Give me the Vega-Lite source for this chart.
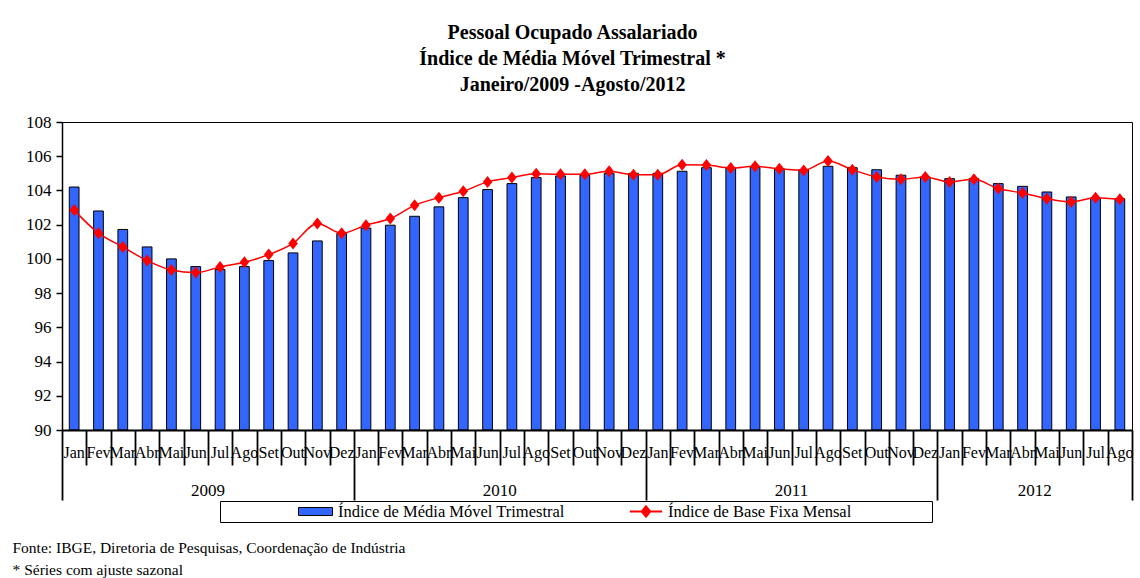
{
  "$schema": "https://vega.github.io/schema/vega-lite/v6.json",
  "width": 1070,
  "height": 308,
  "autosize": {"type": "none"},
  "padding": {"left": 62, "top": 122, "right": 8, "bottom": 148},
  "background": "white",
  "config": {
    "view": {"stroke": "black", "strokeWidth": 1},
    "font": "Liberation Serif",
    "axisY": {
      "labelFont": "Liberation Serif",
      "labelFontSize": 17,
      "labelColor": "black",
      "labelPadding": 5,
      "labelOverlap": false,
      "tickColor": "black",
      "tickSize": 6,
      "tickWidth": 1.5,
      "domainColor": "black",
      "domainWidth": 1.5,
      "grid": false
    }
  },
  "title": {
    "text": ["Pessoal Ocupado Assalariado", "Índice de Média Móvel Trimestral *", "Janeiro/2009 -Agosto/2012"],
    "font": "Liberation Serif",
    "fontSize": 20,
    "fontWeight": "bold",
    "color": "black",
    "anchor": "middle",
    "frame": "bounds",
    "lineHeight": 26,
    "offset": 18
  },
  "data": {
    "values": [
      {"m": "Jan/2009", "media": 104.2, "base": 102.85},
      {"m": "Fev/2009", "media": 102.8, "base": 101.5},
      {"m": "Mar/2009", "media": 101.72, "base": 100.7},
      {"m": "Abr/2009", "media": 100.7, "base": 99.9},
      {"m": "Mai/2009", "media": 100.0, "base": 99.35},
      {"m": "Jun/2009", "media": 99.55, "base": 99.2},
      {"m": "Jul/2009", "media": 99.38, "base": 99.53},
      {"m": "Ago/2009", "media": 99.55, "base": 99.8},
      {"m": "Set/2009", "media": 99.9, "base": 100.25},
      {"m": "Out/2009", "media": 100.35, "base": 100.9},
      {"m": "Nov/2009", "media": 101.05, "base": 102.07},
      {"m": "Dez/2009", "media": 101.48, "base": 101.5},
      {"m": "Jan/2010", "media": 101.8, "base": 101.97},
      {"m": "Fev/2010", "media": 101.97, "base": 102.36},
      {"m": "Mar/2010", "media": 102.49, "base": 103.13},
      {"m": "Abr/2010", "media": 103.04, "base": 103.58},
      {"m": "Mai/2010", "media": 103.58, "base": 103.95},
      {"m": "Jun/2010", "media": 104.05, "base": 104.5},
      {"m": "Jul/2010", "media": 104.4, "base": 104.75},
      {"m": "Ago/2010", "media": 104.75, "base": 104.98},
      {"m": "Set/2010", "media": 104.85, "base": 104.94},
      {"m": "Out/2010", "media": 104.89, "base": 104.94},
      {"m": "Nov/2010", "media": 105.0, "base": 105.12},
      {"m": "Dez/2010", "media": 105.0, "base": 104.92},
      {"m": "Jan/2011", "media": 105.0, "base": 104.92},
      {"m": "Fev/2011", "media": 105.12, "base": 105.5},
      {"m": "Mar/2011", "media": 105.33, "base": 105.48},
      {"m": "Abr/2011", "media": 105.33, "base": 105.31},
      {"m": "Mai/2011", "media": 105.37, "base": 105.41},
      {"m": "Jun/2011", "media": 105.27, "base": 105.27},
      {"m": "Jul/2011", "media": 105.21, "base": 105.17},
      {"m": "Ago/2011", "media": 105.41, "base": 105.72},
      {"m": "Set/2011", "media": 105.33, "base": 105.21},
      {"m": "Out/2011", "media": 105.21, "base": 104.79},
      {"m": "Nov/2011", "media": 104.89, "base": 104.65},
      {"m": "Dez/2011", "media": 104.79, "base": 104.79},
      {"m": "Jan/2012", "media": 104.69, "base": 104.5},
      {"m": "Fev/2012", "media": 104.69, "base": 104.65},
      {"m": "Mar/2012", "media": 104.4, "base": 104.11},
      {"m": "Abr/2012", "media": 104.24, "base": 103.85},
      {"m": "Mai/2012", "media": 103.91, "base": 103.52},
      {"m": "Jun/2012", "media": 103.62, "base": 103.33},
      {"m": "Jul/2012", "media": 103.56, "base": 103.58},
      {"m": "Ago/2012", "media": 103.52, "base": 103.48}
    ]
  },
  "layer": [
    {
      "mark": {"type": "bar", "stroke": "black", "strokeWidth": 1, "width": {"band": 0.4}},
      "encoding": {
        "x": {
          "field": "m", "type": "ordinal", "sort": null,
          "scale": {"paddingInner": 0, "paddingOuter": 0},
          "axis": {
            "orient": "bottom",
            "zindex": 1,
            "title": ["Fonte: IBGE, Diretoria de Pesquisas, Coordenação de Indústria", "* Séries com ajuste sazonal"],
            "titleFont": "Liberation Serif",
            "titleFontSize": 15.5,
            "titleFontWeight": "normal",
            "titleColor": "black",
            "titleAnchor": "start",
            "titleAlign": "left",
            "titleBaseline": "top",
            "titleX": -50,
            "titleY": 110,
            "titleLineHeight": 22,
            "labelExpr": "split(datum.label, '/')[0]",
            "labelAngle": 0,
            "labelFont": "Liberation Serif",
            "labelFontSize": 16,
            "labelColor": "black",
            "labelPadding": 14,
            "labelBaseline": "top",
            "labelOverlap": false,
            "labelBound": false,
            "labelFlush": false,
            "ticks": false,
            "tickSize": 0,
            "domainColor": "black",
            "domainWidth": 2
          }
        },
        "y": {
          "field": "media", "type": "quantitative",
          "scale": {"domain": [90, 108], "nice": false, "zero": false},
          "axis": {"values": [90, 92, 94, 96, 98, 100, 102, 104, 106, 108], "title": null, "labelOverlap": false}
        },
        "y2": {"datum": 90},
        "fill": {
          "datum": "Índice de Média Móvel Trimestral",
          "scale": {"range": ["#3366FF"]},
          "legend": {
            "orient": "none",
            "legendX": 234,
            "legendY": 379,
            "direction": "horizontal",
            "title": null,
            "padding": 2,
            "labelFont": "Liberation Serif",
            "labelFontSize": 16.5,
            "labelColor": "black",
            "labelOffset": 5,
            "labelLimit": 400,
            "symbolType": "M-1,-0.235L1,-0.235L1,0.235L-1,0.235Z",
            "symbolSize": 1156,
            "symbolStrokeColor": "black",
            "symbolStrokeWidth": 1,
            "symbolOpacity": 1,
            "clipHeight": 17
          }
        }
      }
    },
    {
      "mark": {"type": "line", "strokeWidth": 1.5, "interpolate": "monotone"},
      "encoding": {
        "x": {
          "field": "m", "type": "ordinal", "sort": null,
          "axis": {
            "orient": "bottom",
            "zindex": 1,
            "values": ["Jul/2009", "Jul/2010", "Jul/2011", "Mai/2012"],
            "labelExpr": "split(datum.label, '/')[1]",
            "labelOffset": -12.16,
            "labelAngle": 0,
            "ticks": false,
            "domain": false,
            "labelPadding": 52,
            "labelBaseline": "top",
            "labelFont": "Liberation Serif",
            "labelFontSize": 17,
            "labelColor": "black",
            "labelOverlap": false,
            "title": null
          }
        },
        "y": {
          "field": "base", "type": "quantitative",
          "axis": {"values": [90, 92, 94, 96, 98, 100, 102, 104, 106, 108], "title": null, "labelOverlap": false}
        },
        "stroke": {
          "datum": "Índice de Base Fixa Mensal",
          "scale": {"range": ["#FF0000"]},
          "legend": {
            "orient": "none",
            "legendX": 158,
            "legendY": 379,
            "direction": "horizontal",
            "title": " ",
            "titleOrient": "left",
            "titlePadding": 406,
            "strokeColor": "black",
            "padding": 2,
            "labelFont": "Liberation Serif",
            "labelFontSize": 16.5,
            "labelColor": "black",
            "labelOffset": 4,
            "labelLimit": 400,
            "symbolType": "M-0.95,0L0.95,0M0,-0.3L0.25,0L0,0.3L-0.25,0Z",
            "symbolSize": 1156,
            "symbolStrokeColor": "#FF0000",
            "symbolFillColor": "#FF0000",
            "symbolStrokeWidth": 2,
            "symbolOpacity": 1,
            "clipHeight": 17,
            "encode": {
              "entries": {
                "update": {"width": {"value": 302}}
              },
              "symbols": {
                "update": {
                  "fill": {"value": "#FF0000"},
                  "fillOpacity": {"value": 1},
                  "stroke": {"value": "#FF0000"},
                  "strokeWidth": {"value": 2}
                }
              }
            }
          }
        }
      }
    },
    {
      "mark": {"type": "point", "shape": "M0,-1L0.8,0L0,1L-0.8,0Z", "filled": true, "size": 144, "opacity": 1, "color": "#FF0000"},
      "encoding": {
        "x": {
          "field": "m", "type": "ordinal", "sort": null,
          "axis": {
            "orient": "bottom",
            "zindex": 2,
            "values": [
              "Jan/2009", "Fev/2009", "Mar/2009", "Abr/2009", "Mai/2009", "Jun/2009", "Jul/2009", "Ago/2009", "Set/2009", "Out/2009", "Nov/2009", "Dez/2009",
              "Jan/2010", "Fev/2010", "Mar/2010", "Abr/2010", "Mai/2010", "Jun/2010", "Jul/2010", "Ago/2010", "Set/2010", "Out/2010", "Nov/2010", "Dez/2010",
              "Jan/2011", "Fev/2011", "Mar/2011", "Abr/2011", "Mai/2011", "Jun/2011", "Jul/2011", "Ago/2011", "Set/2011", "Out/2011", "Nov/2011", "Dez/2011",
              "Jan/2012", "Fev/2012", "Mar/2012", "Abr/2012", "Mai/2012", "Jun/2012", "Jul/2012", "Ago/2012"
            ],
            "tickBand": "extent",
            "tickSize": 70,
            "tickColor": "black",
            "tickWidth": 1.8,
            "tickDash": {
              "condition": {"test": "datum.value && indexof(['Dez/2009','Dez/2010','Dez/2011','Ago/2012'], datum.value) < 0", "value": [35, 200]},
              "value": [70, 0]
            },
            "labels": false,
            "domain": false,
            "title": null
          }
        },
        "y": {
          "field": "base", "type": "quantitative",
          "axis": {"values": [90, 92, 94, 96, 98, 100, 102, 104, 106, 108], "title": null, "labelOverlap": false}
        }
      }
    }
  ],
  "resolve": {"axis": {"x": "independent"}}
}
